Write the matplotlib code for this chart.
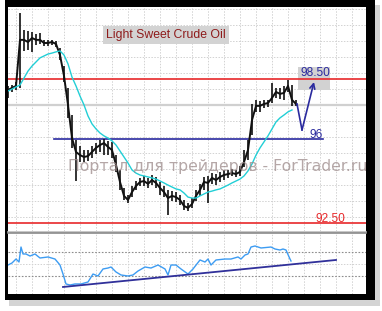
import numpy as np
import matplotlib
matplotlib.use("Agg")
import matplotlib.pyplot as plt
from matplotlib.patches import Rectangle

# ---------------- data ----------------
bar_close = [98.04, 98.13, 98.21, 100.13, 100.13, 100.04, 100.21, 100.13, 100.13, 100.00,
             100.00, 100.04, 99.96, 99.50, 98.63, 97.42, 96.04, 95.46, 95.33, 95.25,
             95.29, 95.46, 95.63, 95.75, 95.83, 95.67, 95.54, 94.92, 94.21, 93.63,
             93.46, 93.79, 94.04, 94.21, 94.25, 94.13, 94.29, 94.17, 93.96, 93.79,
             93.54, 93.63, 93.58, 93.46, 93.21, 93.13, 93.29, 93.63, 93.88, 94.21,
             94.17, 94.38, 94.29, 94.42, 94.50, 94.54, 94.58, 94.54, 94.63, 95.04,
             95.54, 96.79, 97.38, 97.38, 97.46, 97.50, 97.71, 97.96, 97.88, 97.92,
             98.21, 97.63, 97.46]
bar_high = [98.21, 98.25, 98.38, 101.25, 100.54, 100.50, 100.46, 100.38, 100.42, 100.13,
            100.13, 100.13, 100.08, 99.79, 99.04, 98.13, 97.00, 95.96, 95.71, 95.54,
            95.54, 95.71, 95.83, 95.96, 96.00, 95.92, 95.88, 95.33, 94.71, 93.96,
            93.67, 94.04, 94.25, 94.38, 94.46, 94.38, 94.50, 94.42, 94.21, 94.04,
            93.88, 93.83, 93.79, 93.67, 93.46, 93.33, 93.54, 93.88, 94.13, 94.42,
            94.46, 94.58, 94.54, 94.63, 94.71, 94.71, 94.75, 94.71, 94.88, 95.54,
            95.96, 97.46, 97.63, 97.58, 97.63, 97.63, 98.33, 98.13, 98.13, 98.21,
            98.46, 98.25, 97.63]
bar_low = [97.71, 97.96, 98.04, 98.13, 99.67, 99.71, 99.63, 99.92, 99.96, 99.88,
           99.88, 99.92, 99.83, 99.29, 98.38, 96.88, 95.63, 94.25, 95.04, 95.04,
           95.08, 95.21, 95.38, 95.46, 95.33, 95.33, 95.21, 94.63, 93.88, 93.46,
           93.33, 93.58, 93.88, 94.04, 94.04, 93.96, 94.08, 93.96, 93.67, 93.58,
           92.83, 93.42, 93.38, 93.25, 93.04, 93.00, 93.13, 93.42, 93.63, 93.88,
           93.33, 94.13, 94.08, 94.21, 94.29, 94.38, 94.46, 94.42, 94.46, 94.83,
           95.13, 96.17, 97.13, 97.13, 97.29, 97.33, 97.50, 97.71, 97.67, 97.63,
           97.96, 97.38, 97.38]
ma_values = [98.00, 98.08, 98.17, 98.25, 98.54, 98.83, 99.04, 99.21, 99.38, 99.46,
             99.54, 99.58, 99.63, 99.67, 99.50, 99.13, 98.58, 98.21, 97.79, 97.42,
             96.96, 96.63, 96.42, 96.25, 96.13, 96.04, 95.92, 95.75, 95.50, 95.25,
             95.00, 94.71, 94.58, 94.50, 94.46, 94.42, 94.38, 94.33, 94.25, 94.17,
             94.08, 94.00, 93.92, 93.88, 93.75, 93.58, 93.54, 93.54, 93.63, 93.71,
             93.79, 93.83, 93.88, 93.92, 94.00, 94.08, 94.17, 94.25, 94.33, 94.46,
             94.67, 94.96, 95.33, 95.63, 95.88, 96.13, 96.42, 96.71, 96.88, 97.00,
             97.13, 97.21]
rsi_x = [0, 1, 2, 2.75, 3.25, 3.75, 4.5, 5.5, 6.75, 8, 10, 11.75, 13, 13.75, 14.5,
         15.5, 16.75, 18.25, 20, 21.25, 22.5, 23.75, 25, 25.75, 27, 28.25, 30, 31.25,
         32.5, 34.25, 35.75, 37.5, 39.25, 40, 40.75, 42, 43.25, 45, 46.25, 48, 49.25,
         50, 50.75, 52, 54.25, 55.75, 57.5, 58.25, 59.25, 60, 60.75, 61.75, 63.25,
         65.75, 66.75, 68, 68.75, 69.5, 70.5, 70.75]
rsi_values = [48.3, 51.7, 58.3, 53.3, 78.3, 66.7, 66.7, 63.3, 66.7, 60, 61.7, 58.3,
              48.3, 33.3, 16.7, 15, 16.7, 16.7, 20, 33.3, 30, 41.7, 43.3, 45, 36.7,
              31.7, 30, 31.7, 38.3, 45, 43.3, 48.3, 41.7, 31.7, 48.3, 48.3, 41.7, 33.3,
              41.7, 56.7, 53.3, 58.3, 48.3, 56.7, 58.3, 58.3, 61.7, 58.3, 65, 66.7,
              78.3, 80, 76.7, 78.3, 75, 73.3, 75, 73.3, 58.3, 55]
rsi_trend_x = [13.75, 82]
rsi_trend_y = [11.7, 56.7]
rsi_levels = [70, 30]

level_high = 98.50
level_mid = 96.00
level_low = 92.50
mid_line_x = [11.5, 78.75]
gray_line = 97.42
arrow_x = [72.25, 73.5, 76.5]
arrow_y = [97.46, 96.375, 98.375]

title = "Light Sweet Crude Oil"
watermark = "Портал для трейдеров - ForTrader.ru"

# ---------------- figure ----------------
W, H = 382, 311
fig = plt.figure(figsize=(W / 100, H / 100), dpi=100)
fig.patch.set_facecolor("white")

bg = fig.add_axes([0, 0, 1, 1])
bg.set_xlim(0, W)
bg.set_ylim(H, 0)
bg.axis("off")
bg.add_patch(Rectangle((9, 5), 371, 301, facecolor="#d4d4d4", edgecolor="none"))
bg.add_patch(Rectangle((5, 0), 370, 300, facecolor="black", edgecolor="none"))
bg.add_patch(Rectangle((8, 7), 358, 287, facecolor="white", edgecolor="none"))
bg.plot([8, 366], [231.5, 231.5], color="#bdbdbd", lw=1.2)
bg.plot([8, 366], [233, 233], color="#8a8a8a", lw=1.2)


def px_ax(l, t, r, b):
    return fig.add_axes([l / W, (H - b) / H, (r - l) / W, (b - t) / H])


ax = px_ax(8, 7, 366, 231)
ax2 = px_ax(8, 234, 366, 294)
for a in (ax, ax2):
    a.set_facecolor("none")
    for s in a.spines.values():
        s.set_visible(False)
    a.tick_params(left=False, bottom=False, labelleft=False, labelbottom=False)
    a.set_xlim(0, 89.5)

ax.set_ylim(92.167, 101.5)
ax2.set_ylim(0, 100)

grid_x = np.arange(2, 90, 4)
grid_kw = dict(color="#d2d2d2", lw=0.7, ls=(0, (1.5, 1.5)), zorder=0)
for gx in grid_x:
    ax.axvline(gx, **grid_kw)
    ax2.axvline(gx, **grid_kw)
for gy in gray_line + np.arange(-8, 7) * 0.667:
    ax.axhline(gy, **grid_kw)
ax2.axhline(50, **grid_kw)
ax.axhline(gray_line, color="#d0d0d0", lw=1.6, zorder=0.5)

xs = np.arange(len(bar_close))
ax.vlines(xs, bar_low, bar_high, color="#111111", lw=1.2, zorder=3)
ax.plot(xs, bar_close, color="#111111", lw=1.4, zorder=3)
ax.plot(np.arange(len(ma_values)), ma_values, color="#22cfd6", lw=1.0, zorder=4)

ax.axhline(level_high, color="#e8282a", lw=1.2, zorder=2)
ax.axhline(level_low, color="#e8282a", lw=1.2, zorder=2)
ax.plot(mid_line_x, [level_mid, level_mid], color="#2a2aa0", lw=1.2, zorder=2)

navy = "#2a2a9e"
ax.plot(arrow_x[:2], arrow_y[:2], color=navy, lw=1.2, zorder=6)
ax.annotate("", xy=(arrow_x[2], arrow_y[2]), xytext=(arrow_x[1], arrow_y[1]),
            arrowprops=dict(arrowstyle="->", color=navy, lw=1.2, shrinkA=0, shrinkB=0,
                            mutation_scale=9), zorder=6)

ax.add_patch(Rectangle((72.5, 98.04), 8.0, 0.96, facecolor="#d2d2d2", edgecolor="none", zorder=1.5))
lab_font = dict(family=["Liberation Sans", "DejaVu Sans"], fontsize=8.6)
ax.text(76.75, 98.75, "98.50", color=navy, ha="center", va="center", zorder=7, **lab_font)
ax.text(77.1, 96.17, "96", color=navy, ha="center", va="center", zorder=7, **lab_font)
ax.text(80.5, 92.67, "92.50", color="#e8282a", ha="center", va="center", zorder=7, **lab_font)

ax.text(39.5, 100.35, title, color="#8e1b1b", ha="center", va="center",
        family=["Liberation Sans", "DejaVu Sans"], fontsize=8.8, zorder=7,
        bbox=dict(boxstyle="square,pad=0.25", facecolor="#d3d3d3", edgecolor="none"))

ax2.plot(rsi_x, rsi_values, color="#3d9cf2", lw=1.0, zorder=3)
ax2.plot(rsi_trend_x, rsi_trend_y, color="#30309a", lw=1.3, zorder=4)
for lv in rsi_levels:
    ax2.axhline(lv, color="#8c8c8c", lw=0.8, ls=(0, (1.5, 1.5)), zorder=1)

fig.text(218 / W, 1 - 166 / H, watermark, color="#9c8a8a", alpha=0.75, ha="center",
         va="center", fontsize=11.3, family=["DejaVu Sans"])

fig.savefig("out.png", dpi=100)
